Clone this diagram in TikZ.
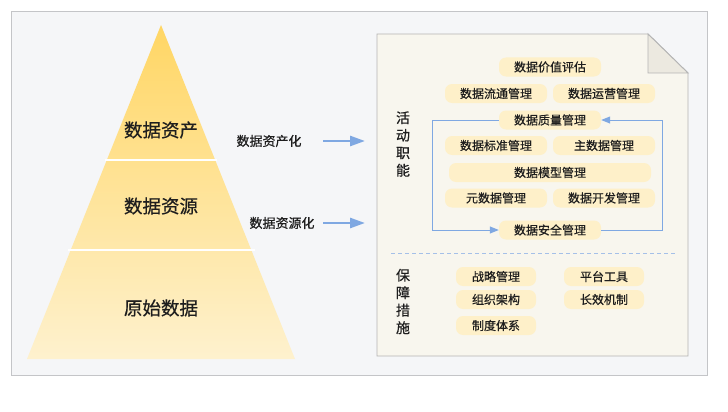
\documentclass[tikz,border=0pt]{standalone}
\usepackage{fontspec}
\newfontfamily\cjk[FakeBold=0.6]{Noto Sans CJK SC}
\usetikzlibrary{arrows.meta}
\definecolor{bgfill}{HTML}{F5F6F8}
\definecolor{bgline}{HTML}{C4C5C8}
\definecolor{docfill}{HTML}{F8F6EE}
\definecolor{docline}{HTML}{B4B4B4}
\definecolor{foldfill}{HTML}{ECE9E0}
\definecolor{pillfill}{HTML}{FEF0C9}
\definecolor{loopblue}{HTML}{7FA8E2}
\definecolor{dashblue}{HTML}{A5C0E8}
\definecolor{pyrtop}{HTML}{FFD664}
\definecolor{pyrbot}{HTML}{FEF1CE}
\definecolor{ink}{HTML}{1E1E1E}
\tikzset{
  pill/.style={rounded corners=7pt,fill=pillfill,minimum width=102pt,minimum height=19pt,
    inner sep=0pt,text=ink,font=\cjk\fontsize{12}{12}\selectfont},
  widepill/.style={pill,minimum width=202pt},
  smallpill/.style={pill,minimum width=80pt},
  sidelabel/.style={text=ink,font=\cjk\fontsize{13}{13}\selectfont},
  layerlabel/.style={text=ink,font=\cjk\fontsize{18.5}{18.5}\selectfont},
  vlabel/.style={text=ink,align=center,inner sep=0pt,font=\cjk\fontsize{14}{17.5}\selectfont},
  bigarrow/.style={loopblue,line width=2.6pt,-{Triangle[length=15pt,width=10pt]}},
  looparrow/.style={loopblue,line width=1pt,-{Triangle[length=9pt,width=7pt]}}
}
\begin{document}
\begin{tikzpicture}[x=1pt,y=-1pt]
\useasboundingbox (0,0) rectangle (728,412);

\draw[bgline,fill=bgfill,line width=0.8pt] (11,11) rectangle (707,375);

% pyramid
\shade[top color=pyrtop,bottom color=pyrbot] (161,25) -- (27,359) -- (295,359) -- cycle;
\draw[white,line width=1.5pt] (105,160) -- (217,160);
\draw[white,line width=1.5pt] (68,250) -- (255,250);
\node[layerlabel] (asset) at (161,130) {数据资产};
\node[layerlabel] (resource) at (161,206) {数据资源};
\node[layerlabel] (raw) at (161,308) {原始数据};

\node[sidelabel] (assetize) at (269,141) {数据资产化};
\node[sidelabel] (resourcize) at (282,223) {数据资源化};
\coordinate (a1) at (323,141);
\coordinate (a2) at (365,141);
\coordinate (b1) at (323,223);
\coordinate (b2) at (365,223);
\draw[bigarrow] (a1) -- (a2);
\draw[bigarrow] (b1) -- (b2);

% document
\draw[docline,fill=docfill,line width=0.9pt] (377,34) -- (648,34) -- (688,73) -- (688,356) -- (377,356) -- cycle;
\draw[docline,fill=foldfill,line width=0.9pt] (648,34) -- (648,73) -- (688,73) -- cycle;

\node[vlabel] (duty) at (403,144) {活\\动\\职\\能};
\node[vlabel] (guard) at (403,301.5) {保\\障\\措\\施};

\node[pill] (value) at (550,67) {数据价值评估};
\node[pill] (flow) at (496,93.5) {数据流通管理};
\node[pill] (ops) at (604,93.5) {数据运营管理};
\node[pill] (quality) at (550,120) {数据质量管理};
\node[pill] (standard) at (496,145.5) {数据标准管理};
\node[pill] (master) at (604,145.5) {主数据管理};
\node[widepill] (model) at (550,172.5) {数据模型管理};
\node[pill] (meta) at (496,198) {元数据管理};
\node[pill] (dev) at (604,198) {数据开发管理};
\node[pill] (security) at (550,230) {数据安全管理};

\draw[looparrow] (quality.west) -- (432,120) |- (security.west);
\draw[looparrow] (security.east) -- (662,230) |- (quality.east);

\draw[dashblue,line width=1pt,dash pattern=on 4pt off 3pt] (391,253) -- (676,253);

\node[smallpill] (strategy) at (496,276.5) {战略管理};
\node[smallpill] (platform) at (604,276.5) {平台工具};
\node[smallpill] (org) at (496,299.5) {组织架构};
\node[smallpill] (mechanism) at (604,299.5) {长效机制};
\node[smallpill] (system) at (496,325.5) {制度体系};
\end{tikzpicture}
\end{document}
